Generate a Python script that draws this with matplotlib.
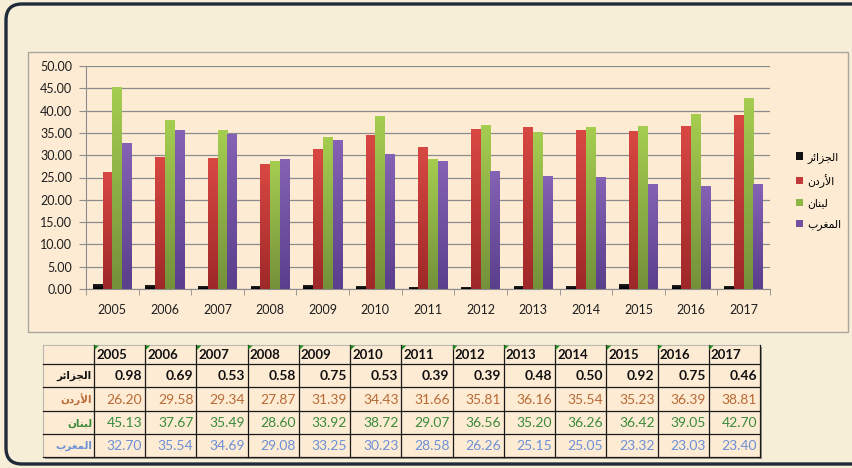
import numpy as np
import matplotlib
matplotlib.use("Agg")
import matplotlib.pyplot as plt
from matplotlib.patches import FancyBboxPatch, Rectangle, Polygon
from matplotlib.colors import LinearSegmentedColormap

# ---------------- data ----------------
years = ["2005", "2006", "2007", "2008", "2009", "2010", "2011",
         "2012", "2013", "2014", "2015", "2016", "2017"]
series_names = ["الجزائر", "الأردن", "لبنان", "المغرب"]
algeria = [0.98, 0.69, 0.53, 0.58, 0.75, 0.53, 0.39, 0.39, 0.48, 0.50, 0.92, 0.75, 0.46]
jordan = [26.20, 29.58, 29.34, 27.87, 31.39, 34.43, 31.66, 35.81, 36.16, 35.54, 35.23, 36.39, 38.81]
lebanon = [45.13, 37.67, 35.49, 28.60, 33.92, 38.72, 29.07, 36.56, 35.20, 36.26, 36.42, 39.05, 42.70]
morocco = [32.70, 35.54, 34.69, 29.08, 33.25, 30.23, 28.58, 26.26, 25.15, 25.05, 23.32, 23.03, 23.40]
yticks = [0, 5, 10, 15, 20, 25, 30, 35, 40, 45, 50]

series = [algeria, jordan, lebanon, morocco]

# ---------------- arabic shaping (visual order, presentation forms) ----------------
FORMS = {
    '\u0627': ('\uFE8D', '\uFE8E', None, None),
    '\u0623': ('\uFE83', '\uFE84', None, None),
    '\u0628': ('\uFE8F', '\uFE90', '\uFE91', '\uFE92'),
    '\u062C': ('\uFE9D', '\uFE9E', '\uFE9F', '\uFEA0'),
    '\u062F': ('\uFEA9', '\uFEAA', None, None),
    '\u0631': ('\uFEAD', '\uFEAE', None, None),
    '\u0632': ('\uFEAF', '\uFEB0', None, None),
    '\u063A': ('\uFECD', '\uFECE', '\uFECF', '\uFED0'),
    '\u0644': ('\uFEDD', '\uFEDE', '\uFEDF', '\uFEE0'),
    '\u0645': ('\uFEE1', '\uFEE2', '\uFEE3', '\uFEE4'),
    '\u0646': ('\uFEE5', '\uFEE6', '\uFEE7', '\uFEE8'),
    '\u0626': ('\uFE89', '\uFE8A', '\uFE8B', '\uFE8C'),
}
LAMALEF = {'\u0627': ('\uFEFB', '\uFEFC'), '\u0623': ('\uFEF7', '\uFEF8')}


def dual(c):
    return c in FORMS and FORMS[c][2] is not None


def shape(s):
    out = []
    i = 0
    n = len(s)
    while i < n:
        c = s[i]
        prev = s[i - 1] if i > 0 else None
        pj = prev is not None and dual(prev)
        if c == '\u0644' and i + 1 < n and s[i + 1] in LAMALEF:
            iso, fin = LAMALEF[s[i + 1]]
            out.append(fin if pj else iso)
            i += 2
            continue
        if c not in FORMS:
            out.append(c)
            i += 1
            continue
        nxt = s[i + 1] if i + 1 < n else None
        nj = dual(c) and nxt is not None and nxt in FORMS
        iso, fin, ini, med = FORMS[c]
        if pj and nj:
            out.append(med)
        elif pj:
            out.append(fin)
        elif nj:
            out.append(ini)
        else:
            out.append(iso)
        i += 1
    return ''.join(reversed(out))


# ---------------- figure ----------------
W, H = 852, 468
fig = plt.figure(figsize=(W / 100, H / 100), dpi=100)
fig.patch.set_facecolor('#F6EED6')

bg = fig.add_axes([0, 0, 1, 1], zorder=0)
bg.set_xlim(0, W)
bg.set_ylim(H, 0)
bg.axis('off')

# outer rounded frame
bg.add_patch(FancyBboxPatch((6, 4), 900, 460, boxstyle="round,pad=0,rounding_size=16",
                            fc='#F6EED6', ec='#1F2A3A', lw=2.4))
# chart panel
bg.add_patch(Rectangle((28, 52), 820, 280, fc='#FDEBD4', ec='#A9A6A0', lw=1.0))

# ---------------- bar chart ----------------
L, R, T, B = 86, 770, 66, 289
ax = fig.add_axes([L / W, 1 - B / H, (R - L) / W, (B - T) / H], zorder=1)
ax.set_facecolor('none')

x = np.arange(len(years))
bw = 0.185
grads = [('#222222', '#000000'), ('#D84843', '#9E2828'),
         ('#A5CD50', '#74913A'), ('#8462B4', '#5A3F8C')]
legend_cols = ['#111111', '#C0393B', '#8DB644', '#7050A0']
handles = []
for k, vals in enumerate(series):
    bars = ax.bar(x + (k - 1.5) * bw, vals, bw, color=legend_cols[k], zorder=2,
                  label=shape(series_names[k]))
    handles.append(bars)
    cmap = LinearSegmentedColormap.from_list('g%d' % k, [grads[k][1], grads[k][0]])
    grad = np.linspace(0, 1, 64).reshape(-1, 1)
    for r in bars:
        x0, h, w = r.get_x(), r.get_height(), r.get_width()
        ax.imshow(grad, extent=[x0, x0 + w, 0, h], origin='lower', aspect='auto',
                  cmap=cmap, zorder=3)

ax.set_xlim(-0.5, len(years) - 0.5)
ax.set_ylim(0, 50)
ax.set_yticks(yticks)
ax.set_yticklabels(['%.2f' % v for v in yticks])
ax.yaxis.grid(True, color='#8C8C8C', lw=0.9, zorder=1)
ax.set_axisbelow(True)
for s in ['top', 'right']:
    ax.spines[s].set_visible(False)
ax.spines['left'].set_color('#8C8C8C')
ax.spines['bottom'].set_color('#8C8C8C')
ax.set_xticks(x)
ax.set_xticklabels(years)
ax.set_xticks(np.arange(-0.5, len(years), 1), minor=True)
ax.tick_params(axis='x', which='major', length=0, pad=11, labelsize=9, labelcolor='#1E1E1E')
ax.tick_params(axis='x', which='minor', length=4, color='#8C8C8C', direction='out')
ax.tick_params(axis='y', length=5, color='#8C8C8C', pad=5, labelsize=9, labelcolor='#1E1E1E')
for lab in ax.get_xticklabels() + ax.get_yticklabels():
    lab.set_family(['Lato', 'DejaVu Sans'])

leg = fig.legend(handles=handles, loc='center left',
                 bbox_to_anchor=(786 / W, 1 - 191 / H), frameon=False,
                 handlelength=0.65, handleheight=0.65, handletextpad=0.4,
                 labelspacing=1.0, prop={'family': 'DejaVu Sans', 'size': 7.8})

# ---------------- data table ----------------
tx0, tx1 = 43, 760
c0 = 94
cw = (tx1 - c0) / len(years)
rows_y = [345, 364, 387, 411, 434, 457]
col_edges = [tx0] + [c0 + i * cw for i in range(len(years) + 1)]

# shadow
bg.add_patch(Rectangle((tx0 + 2, rows_y[0] + 2), tx1 - tx0, rows_y[-1] - rows_y[0],
                       fc='#9A958C', ec='none', zorder=1))
bg.add_patch(Rectangle((tx0, rows_y[0]), tx1 - tx0, rows_y[-1] - rows_y[0],
                       fc='#FDEBD4', ec='none', zorder=2))
# lines
bg.plot([tx0, tx1], [rows_y[0], rows_y[0]], color='#BDB8B0', lw=0.8, zorder=3)
bg.plot([tx0, tx0], [rows_y[0], rows_y[-1]], color='#BDB8B0', lw=0.8, zorder=3)
for yy in rows_y[1:]:
    bg.plot([tx0, tx1], [yy, yy], color='#1A1A1A', lw=0.9, zorder=3)
for xx in col_edges[1:]:
    bg.plot([xx, xx], [rows_y[0], rows_y[-1]], color='#1A1A1A', lw=0.9, zorder=3)

# header
for i, yr in enumerate(years):
    xl = c0 + i * cw
    bg.add_patch(Polygon([(xl + 0.5, rows_y[0] + 0.5), (xl + 5, rows_y[0] + 0.5),
                          (xl + 0.5, rows_y[0] + 5)], closed=True, fc='#1E8C1E',
                         ec='none', zorder=4))
    bg.text(xl + 2, (rows_y[0] + rows_y[1]) / 2 + 0.5, yr, ha='left', va='center',
            fontsize=9.5, fontweight='bold', color='#111111', family=['Lato', 'DejaVu Sans'],
            zorder=5)

row_colors = ['#111111', '#B86A35', '#3A8A3A', '#6C90D6']
row_weights = ['bold', 'normal', 'normal', 'normal']
for k, vals in enumerate(series):
    yc = (rows_y[k + 1] + rows_y[k + 2]) / 2 + 0.5
    bg.text(c0 - 2, yc, shape(series_names[k]), ha='right', va='center', fontsize=7.5,
            fontweight='bold', color=row_colors[k], family='DejaVu Sans', zorder=5)
    for i, v in enumerate(vals):
        xr = c0 + (i + 1) * cw
        bg.text(xr - 3, yc, '%.2f' % v, ha='right', va='center', fontsize=10,
                fontweight=row_weights[k], color=row_colors[k],
                family=['Lato', 'DejaVu Sans'], zorder=5)

fig.savefig('out.png', dpi=100, facecolor=fig.get_facecolor())
